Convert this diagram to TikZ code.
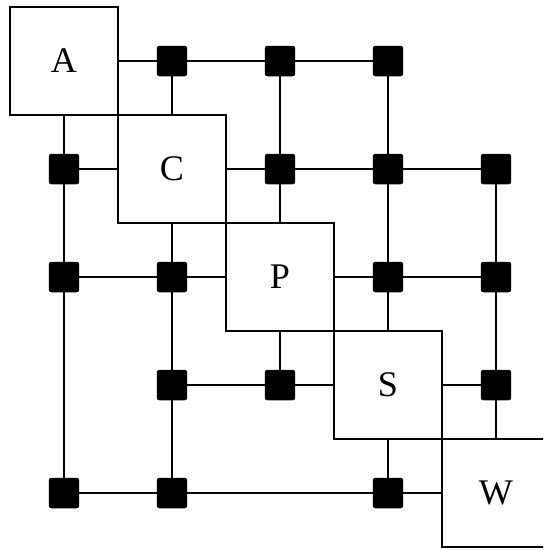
\documentclass[tikz,border=0pt]{standalone}
\usepackage{fontspec}
\setmainfont{Liberation Serif}
\usepackage{tikz}

\tikzset{
  blk/.style={draw, line width=1.5pt, minimum size=2cm, inner sep=0pt,
    font=\fontsize{19}{22}\selectfont},
  sq/.style={fill=black, draw=black, minimum size=0.55cm, inner sep=0pt,
    rounded corners=1.2pt},
  ln/.style={line width=1.5pt}
}

\begin{document}
\begin{tikzpicture}
\useasboundingbox (-1.185,1.13) rectangle (8.871,-9.055);
\clip (-1.185,1.13) rectangle (8.871,-9.055);
% diagonal boxes
\node[blk] (A) at (0,0) {A};
\node[blk] (C) at (2,-2) {C};
\node[blk] (P) at (4,-4) {P};
\node[blk] (S) at (6,-6) {S};
\node[blk] (W) at (8,-8) {W};
% small squares, q<col><row>
\foreach \c/\r in {1/0,2/0,3/0, 0/1,2/1,3/1,4/1, 0/2,1/2,3/2,4/2,
                   1/3,2/3,4/3, 0/4,1/4,3/4}
  \node[sq] (q\c\r) at (2*\c,-2*\r) {};
% rows
\draw[ln] (A) -- (q10) -- (q20) -- (q30);
\draw[ln] (q01) -- (C); \draw[ln] (C) -- (q21) -- (q31) -- (q41);
\draw[ln] (q02) -- (q12) -- (P); \draw[ln] (P) -- (q32) -- (q42);
\draw[ln] (q13) -- (q23) -- (S); \draw[ln] (S) -- (q43);
\draw[ln] (q04) -- (q14) -- (q34) -- (W);
% columns
\draw[ln] (A) -- (q01) -- (q02) -- (q04);
\draw[ln] (q10) -- (C); \draw[ln] (C) -- (q12) -- (q13) -- (q14);
\draw[ln] (q20) -- (q21) -- (P); \draw[ln] (P) -- (q23);
\draw[ln] (q30) -- (q31) -- (q32) -- (S); \draw[ln] (S) -- (q34);
\draw[ln] (q41) -- (q42) -- (q43) -- (W);
\end{tikzpicture}
\end{document}
